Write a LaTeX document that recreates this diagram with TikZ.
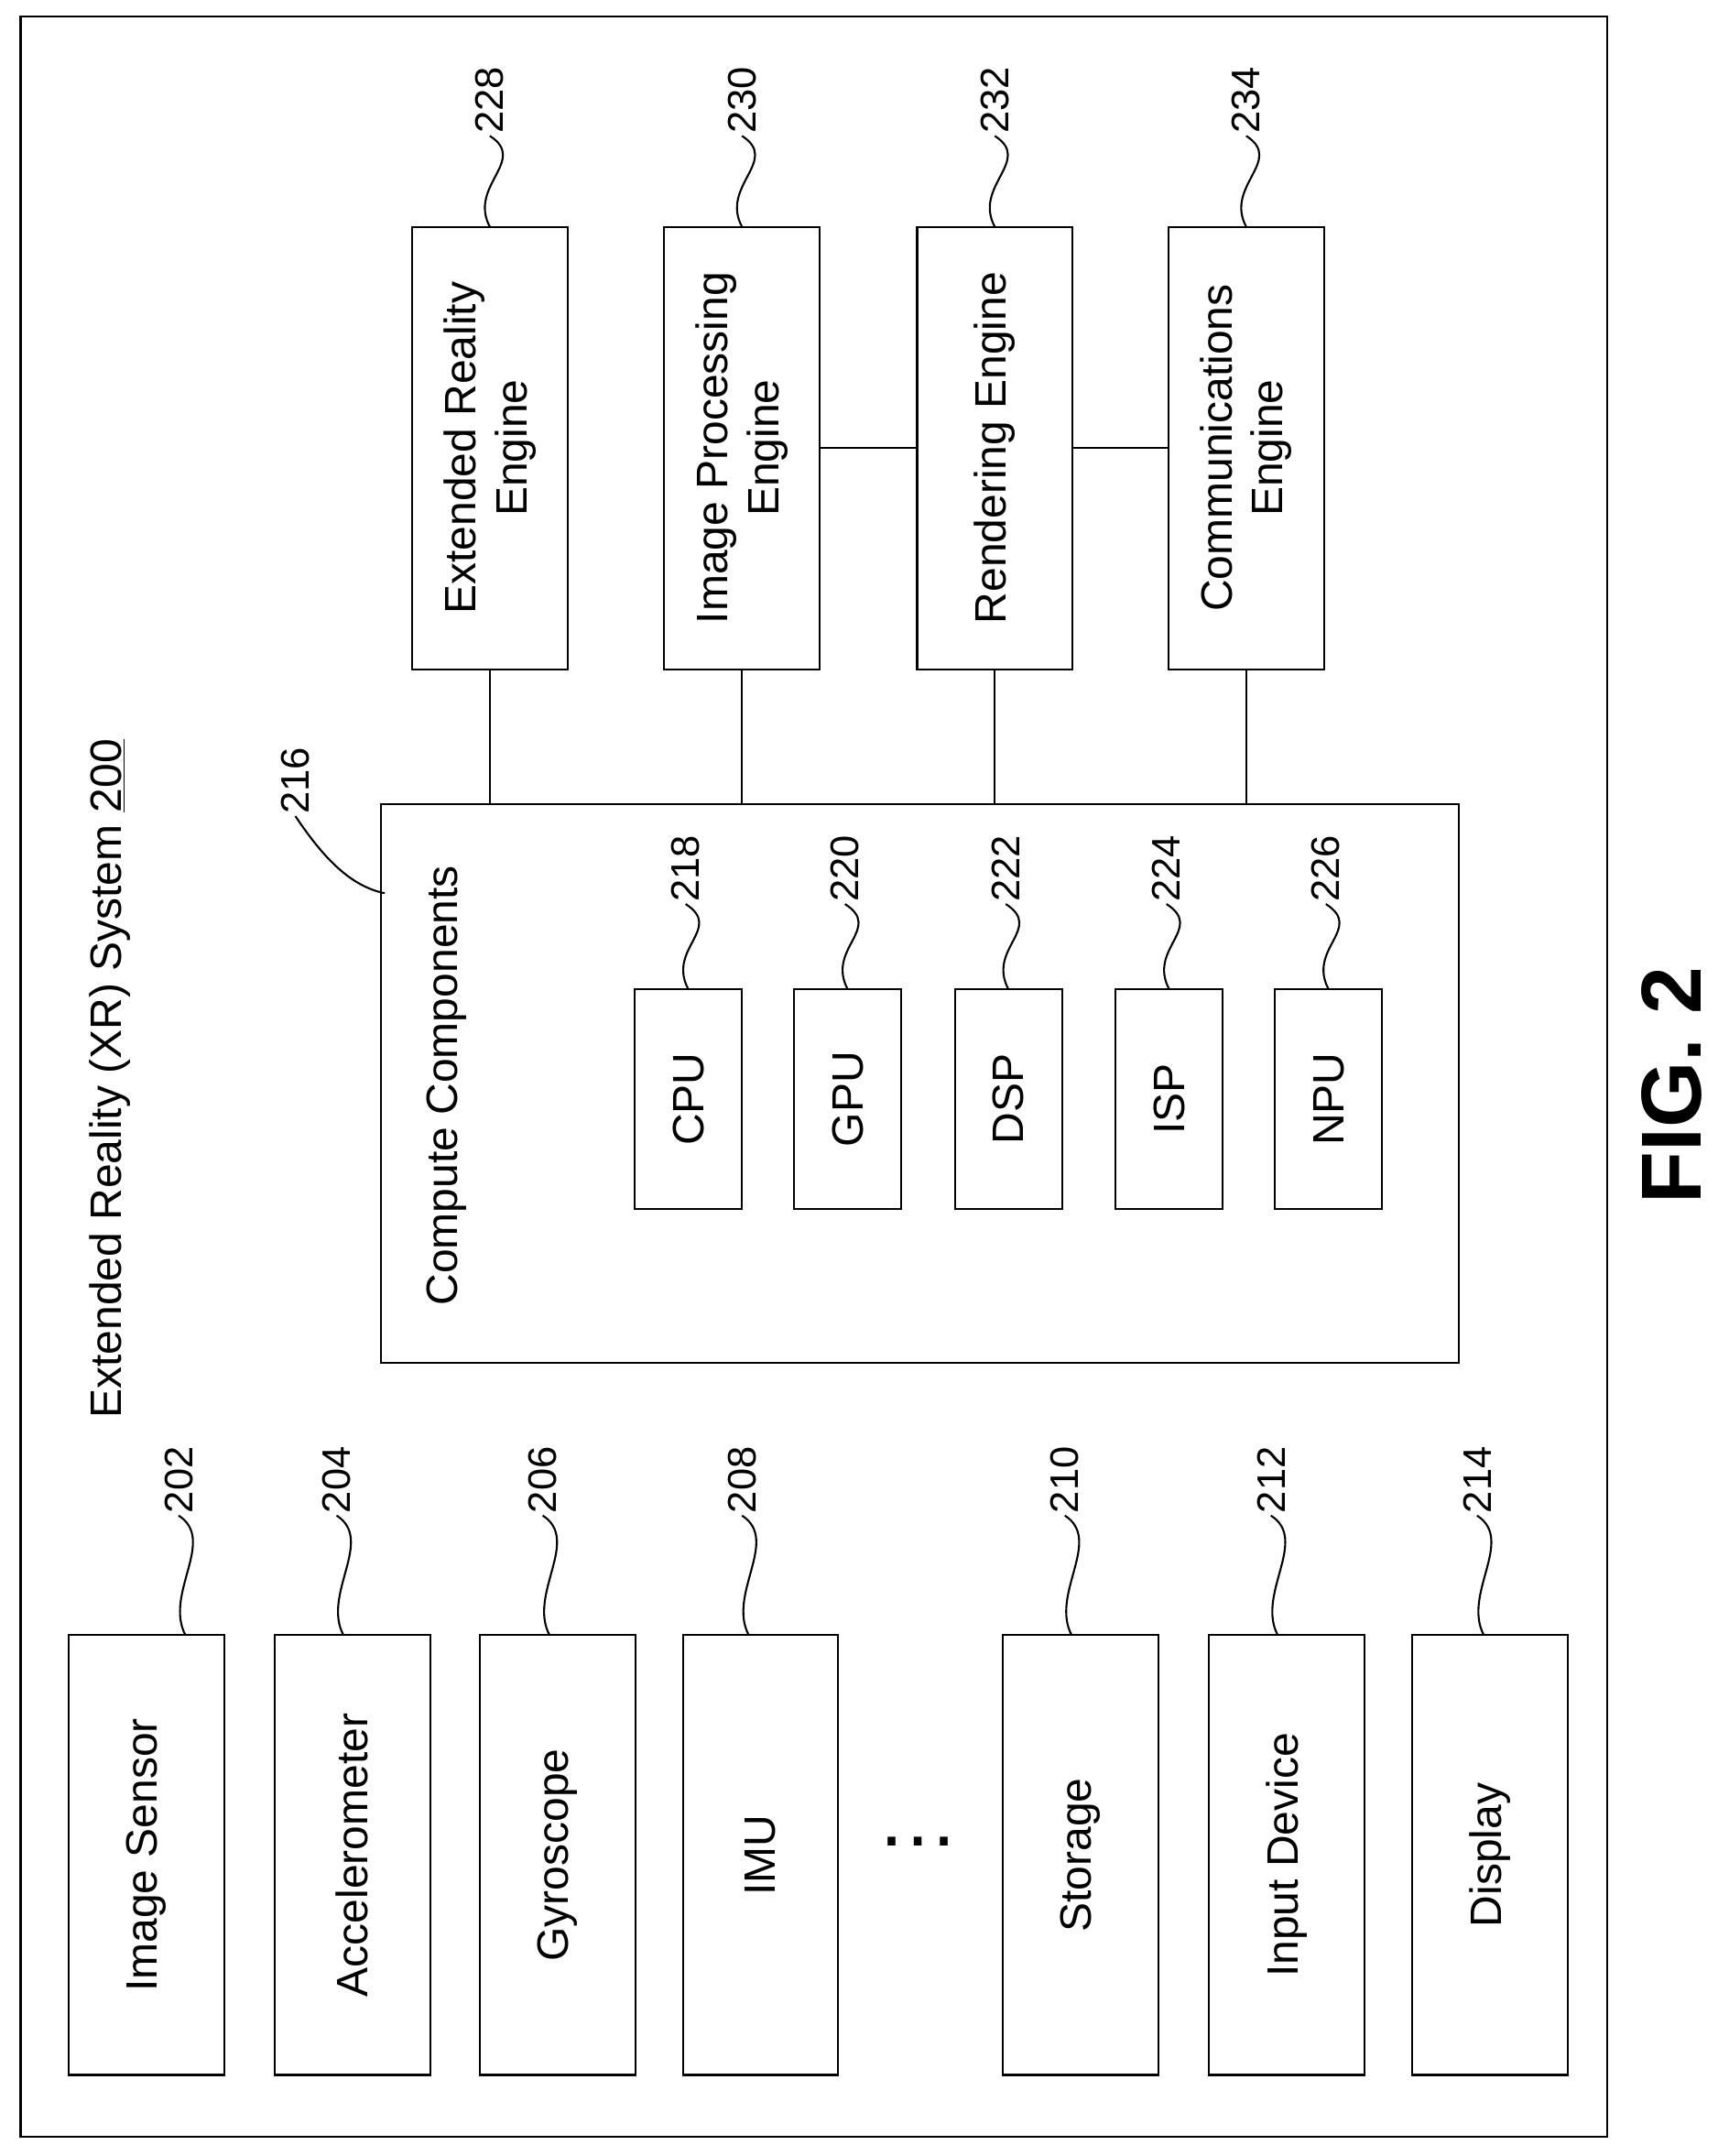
\documentclass[tikz,border=0pt]{standalone}
\usepackage{fontspec}
\setmainfont{Liberation Sans}
\usetikzlibrary{positioning}
\tikzset{
    box/.style={draw, rotate=90, inner sep=0, align=center, font=\fontsize{32}{37}\selectfont},
    ref/.style={rotate=90, inner sep=1pt, font=\fontsize{29}{32}\selectfont},
    squig/.style={line width=1.4pt}
}
\newcommand{\squig}[2]{\draw[squig] (#1.west) .. controls +(28,18) and +(-16,-30) .. (#2);}
\begin{document}
\begin{tikzpicture}[x=1pt, y=-1pt, line width=1.4pt]
\useasboundingbox (0,0) rectangle (1250,1569);
\draw (15,12) rectangle (1170,1555);

% title
\node[rotate=90, font=\fontsize{32}{37}\selectfont] (title) at (80,785) {Extended Reality (XR) System \underline{200}};

% sensors and devices
\foreach \x/\name/\txt/\num/\lx in {
    106.5/is/Image Sensor/202/135,
    256.5/acc/Accelerometer/204/250,
    406/gyr/Gyroscope/206/400,
    553.5/imu/IMU/208/545,
    786.5/sto/Storage/210/780,
    936.5/inp/Input Device/212/930,
    1084.5/dis/Display/214/1080}{
    \node[box, minimum width=320pt, minimum height=113pt] (\name) at (\x,1350) {\txt};
    \node[ref] (l\num) at (\lx-5,1077) {\num};
    \coordinate (t\num) at (\lx,1190);
    \squig{l\num}{t\num}
}
\node[font=\fontsize{60}{60}\selectfont] (dots) at (668,1340) {\ldots};

% compute components
\node[draw, rotate=90, minimum width=407pt, minimum height=785pt] (cc) at (669.5,788.5) {};
\node[rotate=90, font=\fontsize{32}{37}\selectfont] (cctxt) at (325,790) {Compute Components};
\node[ref] (l216) at (215,568) {216};
\coordinate (t216) at (280,650);
\draw[squig] (l216.west) .. controls +(20,30) and +(-25,-5) .. (t216);

\foreach \x/\name/\txt/\num in {
    501/cpu/CPU/218, 617/gpu/GPU/220, 734/dsp/DSP/222, 851/isp/ISP/224, 967/npu/NPU/226}{
    \node[box, minimum width=160pt, minimum height=78pt] (\name) at (\x,800) {\txt};
    \node[ref] (l\num) at (\x-2,632) {\num};
    \coordinate (t\num) at (\x,720);
    \squig{l\num}{t\num}
}

% engines
\foreach \x/\name/\txt/\num in {
    356.5/xre/Extended Reality\\Engine/228,
    540/ipe/Image Processing\\Engine/230,
    724/ren/Rendering Engine/232,
    907/com/Communications\\Engine/234}{
    \node[box, minimum width=322pt, minimum height=113pt] (\name) at (\x,326) {\txt};
    \node[ref] (l\num) at (\x,73) {\num};
    \coordinate (t\num) at (\x,165);
    \squig{l\num}{t\num}
    \draw (\name.west) -- (\name.west |- cc.east);
}
\draw (ipe.south) -- (ren.north);
\draw (ren.south) -- (com.north);

\node[rotate=90, font=\fontsize{62}{62}\bfseries\selectfont] (fig) at (1217,790) {FIG. 2};
\end{tikzpicture}
\end{document}
